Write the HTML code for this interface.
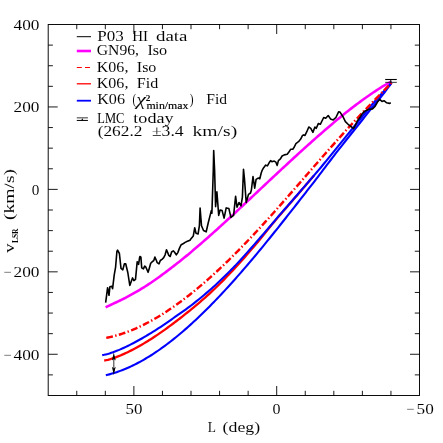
<!DOCTYPE html>
<html><head><meta charset="utf-8"><title>plot</title>
<style>html,body{margin:0;padding:0;background:#fff;width:443px;height:443px;overflow:hidden}body{font-family:"Liberation Serif",serif}</style></head>
<body>
<svg width="443" height="443" viewBox="0 0 443 443" style="position:absolute;left:0;top:0;will-change:transform">
<rect width="443" height="443" fill="#fff"/>
<path d="M105.65,307.30 L107.45,306.41 L109.24,305.56 L111.04,304.73 L112.83,303.89 L114.63,303.05 L116.43,302.20 L118.22,301.34 L120.02,300.48 L121.81,299.60 L123.61,298.71 L125.41,297.82 L127.20,296.91 L129.00,295.95 L130.79,294.96 L132.59,293.95 L134.38,292.93 L136.18,291.89 L137.98,290.84 L139.77,289.78 L141.57,288.70 L143.36,287.61 L145.16,286.50 L146.96,285.37 L148.75,284.21 L150.55,283.00 L152.34,281.77 L154.14,280.53 L155.94,279.27 L157.73,277.99 L159.53,276.70 L161.32,275.40 L163.12,274.07 L164.92,272.74 L166.71,271.39 L168.51,270.02 L170.30,268.64 L172.10,267.28 L173.89,265.90 L175.69,264.51 L177.49,263.10 L179.28,261.68 L181.08,260.25 L182.87,258.80 L184.67,257.34 L186.47,255.87 L188.26,254.38 L190.06,252.88 L191.85,251.37 L193.65,249.85 L195.45,248.32 L197.24,246.78 L199.04,245.22 L200.83,243.67 L202.63,242.12 L204.43,240.56 L206.22,238.99 L208.02,237.41 L209.81,235.83 L211.61,234.23 L213.40,232.63 L215.20,231.02 L217.00,229.41 L218.79,227.78 L220.59,226.15 L222.38,224.52 L224.18,222.88 L225.98,221.23 L227.77,219.58 L229.57,217.92 L231.36,216.26 L233.16,214.60 L234.96,212.93 L236.75,211.26 L238.55,209.58 L240.34,207.90 L242.14,206.22 L243.94,204.54 L245.73,202.86 L247.53,201.17 L249.32,199.48 L251.12,197.79 L252.91,196.11 L254.71,194.42 L256.51,192.73 L258.30,191.04 L260.10,189.35 L261.89,187.66 L263.69,185.97 L265.49,184.28 L267.28,182.60 L269.08,180.91 L270.87,179.23 L272.67,177.54 L274.47,175.86 L276.26,174.19 L278.06,172.51 L279.85,170.84 L281.65,169.17 L283.45,167.50 L285.24,165.83 L287.04,164.17 L288.83,162.51 L290.63,160.86 L292.42,159.21 L294.22,157.56 L296.02,155.92 L297.81,154.28 L299.61,152.64 L301.40,151.01 L303.20,149.39 L305.00,147.77 L306.79,146.15 L308.59,144.54 L310.38,142.94 L312.18,141.34 L313.98,139.74 L315.77,138.15 L317.57,136.57 L319.36,134.99 L321.16,133.42 L322.96,131.86 L324.75,130.30 L326.55,128.75 L328.34,127.21 L330.14,125.68 L331.93,124.15 L333.73,122.63 L335.53,121.12 L337.32,119.62 L339.12,118.13 L340.91,116.66 L342.71,115.21 L344.51,113.77 L346.30,112.35 L348.10,110.93 L349.89,109.53 L351.69,108.13 L353.49,106.75 L355.28,105.38 L357.08,104.03 L358.87,102.69 L360.67,101.37 L362.47,100.06 L364.26,98.76 L366.06,97.49 L367.85,96.23 L369.65,94.99 L371.44,93.75 L373.24,92.52 L375.04,91.32 L376.83,90.14 L378.63,88.98 L380.42,87.84 L382.22,86.73 L384.02,85.65 L385.81,84.59 L387.61,83.57 L389.40,82.57 L391.20,81.60" fill="none" stroke="#ff00ff" stroke-width="2.6"/>
<path d="M104.20,360.60 L106.01,360.22 L107.82,359.78 L109.62,359.29 L111.43,358.75 L113.24,358.17 L115.05,357.55 L116.85,356.88 L118.66,356.18 L120.47,355.45 L122.28,354.68 L124.08,353.88 L125.89,353.05 L127.70,352.19 L129.51,351.31 L131.31,350.40 L133.12,349.46 L134.93,348.50 L136.74,347.52 L138.54,346.52 L140.35,345.49 L142.16,344.45 L143.97,343.38 L145.77,342.29 L147.58,341.19 L149.39,340.06 L151.20,338.92 L153.00,337.75 L154.81,336.57 L156.62,335.37 L158.43,334.15 L160.23,332.91 L162.04,331.66 L163.85,330.38 L165.66,329.09 L167.46,327.77 L169.27,326.44 L171.08,325.09 L172.89,323.72 L174.69,322.34 L176.50,320.98 L178.31,319.62 L180.12,318.23 L181.92,316.83 L183.73,315.41 L185.54,313.97 L187.35,312.51 L189.15,311.03 L190.96,309.56 L192.77,308.10 L194.58,306.61 L196.38,305.11 L198.19,303.59 L200.00,302.05 L201.81,300.49 L203.62,298.91 L205.42,297.32 L207.23,295.68 L209.04,294.03 L210.85,292.37 L212.65,290.68 L214.46,288.98 L216.27,287.27 L218.08,285.54 L219.88,283.79 L221.69,281.95 L223.50,280.09 L225.31,278.22 L227.11,276.33 L228.92,274.43 L230.73,272.52 L232.54,270.60 L234.34,268.66 L236.15,266.72 L237.96,264.76 L239.77,262.79 L241.57,260.79 L243.38,258.72 L245.19,256.64 L247.00,254.56 L248.80,252.47 L250.61,250.36 L252.42,248.26 L254.23,246.14 L256.03,244.02 L257.84,241.90 L259.65,239.76 L261.46,237.63 L263.26,235.38 L265.07,233.08 L266.88,230.79 L268.69,228.52 L270.49,226.27 L272.30,224.05 L274.11,221.92 L275.92,219.78 L277.72,217.63 L279.53,215.49 L281.34,213.39 L283.15,211.32 L284.95,209.25 L286.76,207.17 L288.57,205.08 L290.38,203.00 L292.18,200.91 L293.99,198.82 L295.80,196.73 L297.61,194.63 L299.42,192.53 L301.22,190.43 L303.03,188.32 L304.84,186.21 L306.65,184.10 L308.45,181.98 L310.26,179.86 L312.07,177.74 L313.88,175.63" fill="none" stroke="#ff0000" stroke-width="2.3"/>
<path d="M102.20,355.20 L104.02,354.84 L105.84,354.41 L107.66,353.94 L109.48,353.41 L111.30,352.83 L113.12,352.21 L114.94,351.55 L116.76,350.85 L118.58,350.11 L120.40,349.35 L122.22,348.55 L124.04,347.72 L125.86,346.87 L127.68,345.99 L129.50,345.09 L131.32,344.17 L133.14,343.22 L134.96,342.26 L136.78,341.28 L138.60,340.28 L140.42,339.26 L142.24,338.22 L144.06,337.17 L145.88,336.10 L147.70,335.02 L149.52,333.92 L151.34,332.81 L153.16,331.68 L154.98,330.53 L156.80,329.37 L158.62,328.20 L160.44,327.01 L162.26,325.80 L164.08,324.58 L165.90,323.34 L167.72,322.09 L169.54,320.82 L171.36,319.53 L173.18,318.23 L175.01,316.91 L176.83,315.69 L178.65,314.44 L180.47,313.18 L182.29,311.90 L184.11,310.61 L185.93,309.29 L187.75,307.96 L189.57,306.61 L191.39,305.23 L193.21,303.81 L195.03,302.38 L196.85,300.93 L198.67,299.46 L200.49,297.98 L202.31,296.47 L204.13,294.95 L205.95,293.41 L207.77,291.85 L209.59,290.28 L211.41,288.69 L213.23,287.08 L215.05,285.45 L216.87,283.75 L218.69,282.03 L220.51,280.29 L222.33,278.54 L224.15,276.77 L225.97,274.99 L227.79,273.19 L229.61,271.38 L231.43,269.55 L233.25,267.71 L235.07,265.86 L236.89,263.89 L238.71,261.92 L240.53,259.93 L242.35,257.92 L244.17,255.91 L245.99,253.89 L247.81,251.85 L249.63,249.80 L251.45,247.74 L253.27,245.67 L255.09,243.60 L256.91,241.52 L258.73,239.42 L260.55,237.31 L262.37,235.20 L264.19,233.08 L266.01,230.96 L267.83,228.83 L269.65,226.70 L271.47,224.57 L273.29,222.45 L275.11,220.31 L276.93,218.18 L278.75,216.04 L280.57,213.92 L282.39,211.85 L284.21,209.79 L286.03,207.71 L287.85,205.64 L289.67,203.56 L291.49,201.48 L293.31,199.40 L295.13,197.31 L296.95,195.22 L298.77,193.13 L300.59,191.03 L302.41,188.93 L304.23,186.83 L306.05,184.73 L307.87,182.62 L309.69,180.50 L311.51,178.39 L313.33,176.26 L315.15,174.14 L316.97,172.01 L318.79,169.87 L320.62,167.71 L322.44,165.50 L324.26,163.28 L326.08,161.06 L327.90,158.84 L329.72,156.60 L331.54,154.36 L333.36,152.12 L335.18,149.87 L337.00,147.61 L338.82,145.34 L340.64,143.10 L342.46,140.88 L344.28,138.66 L346.10,136.44 L347.92,134.21 L349.74,131.97 L351.56,129.73 L353.38,127.48 L355.20,125.23 L357.02,122.98 L358.84,120.73 L360.66,118.48 L362.48,116.23 L364.30,113.98 L366.12,111.73 L367.94,109.49 L369.76,107.26 L371.58,105.11 L373.40,102.98 L375.22,100.87 L377.04,98.78 L378.86,96.71 L380.68,94.66 L382.50,92.64 L384.32,90.65 L386.14,88.65 L387.96,86.65 L389.78,84.70 L391.60,82.80" fill="none" stroke="#0000ff" stroke-width="2.1"/>
<path d="M105.85,375.30 L107.65,374.85 L109.44,374.37 L111.24,373.86 L113.04,373.32 L114.84,372.75 L116.63,372.16 L118.43,371.53 L120.23,370.88 L122.02,370.20 L123.82,369.49 L125.62,368.75 L127.42,367.98 L129.21,367.19 L131.01,366.36 L132.81,365.51 L134.60,364.63 L136.40,363.72 L138.20,362.79 L140.00,361.82 L141.79,360.83 L143.59,359.82 L145.39,358.77 L147.18,357.70 L148.98,356.61 L150.78,355.49 L152.58,354.34 L154.37,353.17 L156.17,351.97 L157.97,350.75 L159.77,349.50 L161.56,348.23 L163.36,346.94 L165.16,345.62 L166.95,344.28 L168.75,342.92 L170.55,341.53 L172.35,340.12 L174.14,338.69 L175.94,337.24 L177.74,335.77 L179.53,334.27 L181.33,332.76 L183.13,331.22 L184.93,329.67 L186.72,328.09 L188.52,326.50 L190.32,324.88 L192.11,323.25 L193.91,321.60 L195.71,319.92 L197.51,318.23 L199.30,316.53 L201.10,314.80 L202.90,313.06 L204.69,311.30 L206.49,309.52 L208.29,307.73 L210.09,305.92 L211.88,304.09 L213.68,302.25 L215.48,300.39 L217.27,298.51 L219.07,296.62 L220.87,294.72 L222.67,292.80 L224.46,290.86 L226.26,288.91 L228.06,286.95 L229.85,284.97 L231.65,282.98 L233.45,280.98 L235.25,278.96 L237.04,276.93 L238.84,274.89 L240.64,272.83 L242.43,270.76 L244.23,268.68 L246.03,266.59 L247.83,264.49 L249.62,262.38 L251.42,260.25 L253.22,258.12 L255.02,255.97 L256.81,253.81 L258.61,251.65 L260.41,249.48 L262.20,247.29 L264.00,245.10 L265.80,242.90 L267.60,240.69 L269.39,238.47 L271.19,236.25 L272.99,234.02 L274.78,231.78 L276.58,229.54 L278.38,227.28 L280.18,225.03 L281.97,222.77 L283.77,220.50 L285.57,218.23 L287.36,215.95 L289.16,213.67 L290.96,211.39 L292.76,209.10 L294.55,206.81 L296.35,204.52 L298.15,202.23 L299.94,199.93 L301.74,197.63 L303.54,195.33 L305.34,193.03 L307.13,190.73 L308.93,188.43 L310.73,186.13 L312.52,183.83 L314.32,181.53 L316.12,179.19 L317.92,176.81 L319.71,174.44 L321.51,172.07 L323.31,169.70 L325.10,167.33 L326.90,164.97 L328.70,162.60 L330.50,160.25 L332.29,157.89 L334.09,155.54 L335.89,153.18 L337.68,150.84 L339.48,148.56 L341.28,146.29 L343.08,144.03 L344.87,141.77 L346.67,139.51 L348.47,137.26 L350.27,135.00 L352.06,132.75 L353.86,130.50 L355.66,128.25 L357.45,126.00 L359.25,123.74 L361.05,121.49 L362.85,119.23 L364.64,116.97 L366.44,114.71 L368.24,112.44 L370.03,110.17 L371.83,108.00 L373.63,105.83 L375.43,103.65 L377.22,101.45 L379.02,99.25 L380.82,97.02 L382.61,94.78 L384.41,92.52 L386.21,90.16 L388.01,87.73 L389.80,85.28 L391.60,82.80" fill="none" stroke="#0000ff" stroke-width="2.1"/>
<path d="M106.25,337.90 L108.04,337.54 L109.84,337.15 L111.63,336.73 L113.43,336.28 L115.22,335.81 L117.02,335.31 L118.81,334.77 L120.61,334.22 L122.40,333.63 L124.20,333.02 L125.99,332.38 L127.79,331.72 L129.58,331.03 L131.38,330.31 L133.17,329.57 L134.96,328.80 L136.76,328.01 L138.55,327.20 L140.35,326.36 L142.14,325.49 L143.94,324.61 L145.73,323.69 L147.53,322.76 L149.32,321.80 L151.12,320.82 L152.91,319.82 L154.71,318.79 L156.50,317.75 L158.29,316.68 L160.09,315.59 L161.88,314.48 L163.68,313.34 L165.47,312.19 L167.27,311.02 L169.06,309.83 L170.86,308.61 L172.65,307.38 L174.45,306.13 L176.24,304.86 L178.04,303.56 L179.83,302.26 L181.63,300.93 L183.42,299.58 L185.21,298.22 L187.01,296.83 L188.80,295.43 L190.60,294.01 L192.39,292.58 L194.19,291.12 L195.98,289.65 L197.78,288.17 L199.57,286.66 L201.37,285.14 L203.16,283.61 L204.96,282.06 L206.75,280.49 L208.55,278.90 L210.34,277.31 L212.13,275.69 L213.93,274.06 L215.72,272.42 L217.52,270.76 L219.31,269.08 L221.11,267.40 L222.90,265.69 L224.70,263.98 L226.49,262.25 L228.29,260.51 L230.08,258.75 L231.88,256.98 L233.67,255.20 L235.47,253.40 L237.26,251.59 L239.05,249.77 L240.85,247.94 L242.64,246.10 L244.44,244.24 L246.23,242.38 L248.03,240.50 L249.82,238.61 L251.62,236.71 L253.41,234.81 L255.21,232.89 L257.00,230.96 L258.80,229.02 L260.59,227.07 L262.38,225.12 L264.18,223.15 L265.97,221.18 L267.77,219.20 L269.56,217.21 L271.36,215.22 L273.15,213.21 L274.95,211.20 L276.74,209.19 L278.54,207.17 L280.33,205.14 L282.13,203.11 L283.92,201.07 L285.72,199.03 L287.51,196.98 L289.30,194.93 L291.10,192.88 L292.89,190.83 L294.69,188.77 L296.48,186.71 L298.28,184.64 L300.07,182.58 L301.87,180.51 L303.66,178.45 L305.46,176.38 L307.25,174.31 L309.05,172.25 L310.84,170.18 L312.64,168.12 L314.43,166.06 L316.22,164.00 L318.02,161.94 L319.81,159.88 L321.61,157.83 L323.40,155.78 L325.20,153.74 L326.99,151.70 L328.79,149.67 L330.58,147.64 L332.38,145.61 L334.17,143.59 L335.97,141.58 L337.76,139.57 L339.56,137.57 L341.35,135.58 L343.14,133.59 L344.94,131.61 L346.73,129.64 L348.53,127.68 L350.32,125.72 L352.12,123.77 L353.91,121.83 L355.71,119.90 L357.50,117.98 L359.30,116.06 L361.09,114.15 L362.89,112.26 L364.68,110.37 L366.47,108.48 L368.27,106.61 L370.06,104.74 L371.86,102.88 L373.65,101.03 L375.45,99.18 L377.24,97.34 L379.04,95.51 L380.83,93.68 L382.63,91.86 L384.42,90.04 L386.22,88.23 L388.01,86.42 L389.81,84.61 L391.60,82.80" fill="none" stroke="#ff0000" stroke-width="2.45" stroke-dasharray="6.8 2.4 1.4 2.4"/>
<path d="M105.65,302.60 L107.60,287.70 L109.00,295.30 L109.90,286.80 L111.70,286.30 L112.60,288.60 L114.20,275.20 L115.60,267.10 L116.90,251.50 L117.60,250.20 L119.40,253.50 L121.00,268.40 L122.80,269.80 L124.40,263.70 L125.70,263.70 L127.80,272.50 L129.80,285.40 L132.50,277.90 L133.90,280.60 L135.50,279.30 L137.20,261.70 L138.60,264.40 L139.70,256.90 L140.00,256.50 L140.90,257.10 L141.70,267.80 L143.40,268.90 L144.70,266.10 L145.90,267.20 L148.10,272.30 L149.60,267.20 L150.70,263.30 L152.40,261.60 L153.80,260.50 L154.90,257.10 L156.40,260.50 L157.20,262.70 L159.00,263.90 L160.30,260.50 L162.00,259.30 L163.70,257.70 L165.10,254.80 L166.50,249.80 L167.70,252.60 L168.80,255.40 L170.20,256.50 L171.60,252.00 L173.30,250.90 L174.40,252.00 L176.30,254.80 L177.80,252.60 L179.50,248.10 L181.20,244.70 L183.50,243.50 L185.10,242.40 L187.40,241.30 L190.00,240.20 L190.60,239.30 L193.30,235.90 L194.70,227.80 L196.00,233.20 L198.10,233.90 L199.40,225.70 L200.10,208.10 L201.50,225.70 L203.50,230.50 L206.20,231.80 L208.20,223.00 L211.30,210.60 L211.90,213.30 L213.30,170.00 L213.70,150.50 L214.60,170.00 L215.60,206.60 L216.90,191.70 L218.70,215.40 L220.10,210.00 L222.10,210.60 L224.10,218.10 L226.20,207.90 L228.90,208.60 L230.90,217.40 L233.60,215.40 L235.60,196.40 L237.00,207.20 L239.00,202.50 L241.00,205.90 L242.40,197.10 L243.50,169.40 L244.40,178.10 L246.20,202.50 L248.50,194.40 L250.50,193.00 L251.40,190.00 L253.00,176.50 L254.70,188.20 L256.10,179.40 L258.10,178.10 L259.80,178.80 L261.20,173.00 L262.00,170.70 L263.50,167.90 L265.70,165.10 L267.40,165.90 L269.10,162.80 L270.60,160.60 L271.90,161.70 L274.20,161.10 L275.90,162.20 L277.20,165.40 L278.40,160.60 L280.40,158.90 L282.10,156.00 L284.30,154.90 L287.20,154.30 L288.90,152.10 L290.60,149.30 L292.80,149.30 L294.30,147.00 L295.90,143.60 L298.50,141.70 L300.70,139.10 L302.40,135.70 L303.50,134.90 L305.00,135.40 L306.80,131.70 L308.80,127.00 L310.80,128.30 L312.90,132.40 L314.90,127.00 L316.30,128.30 L318.30,123.60 L320.30,124.30 L323.70,117.50 L325.70,118.20 L328.20,115.50 L330.50,118.90 L333.20,119.90 L335.90,117.50 L338.60,111.80 L340.00,112.10 L342.70,116.20 L345.40,121.60 L348.10,124.30 L350.80,126.30 L353.50,128.60 L355.50,125.00 L357.60,120.40 L360.30,117.00 L362.30,113.60 L365.10,110.90 L368.40,109.50 L372.50,108.90 L375.20,106.20 L377.90,101.40 L379.60,99.40 L382.00,101.40 L384.00,100.70 L386.70,102.80 L389.40,103.40 L390.80,102.80" fill="none" stroke="#000" stroke-width="1.6" stroke-linejoin="round"/>
<path d="M385.2,79.5H396.8" stroke="#000" stroke-width="1.1" fill="none"/>
<path d="M385.2,82.35H396.8" stroke="#000" stroke-width="0.8" fill="none"/>
<path d="M390.8,79.5 l-1.1,2.3 h2.2z" fill="#000"/>
<path d="M113.8,356 V371" stroke="#444" stroke-width="1.1" fill="none"/>
<path d="M113.8,352.4 l-1.9,8.2 l1.9,-1.6 l1.9,1.6z M113.8,375 l-1.9,-8.2 l1.9,1.6 l1.9,-1.6z" fill="#000"/>
<rect x="48.20" y="24.50" width="371.30" height="371.00" fill="none" stroke="#000" stroke-width="0.95"/>
<path d="M390.94,395.50v-4.7M390.94,24.50v4.7M362.38,395.50v-4.7M362.38,24.50v4.7M333.82,395.50v-4.7M333.82,24.50v4.7M305.25,395.50v-4.7M305.25,24.50v4.7M276.69,395.50v-9.5M276.69,24.50v9.5M248.13,395.50v-4.7M248.13,24.50v4.7M219.57,395.50v-4.7M219.57,24.50v4.7M191.01,395.50v-4.7M191.01,24.50v4.7M162.45,395.50v-4.7M162.45,24.50v4.7M133.88,395.50v-9.5M133.88,24.50v9.5M105.32,395.50v-4.7M105.32,24.50v4.7M76.76,395.50v-4.7M76.76,24.50v4.7M48.20,374.89h4.7M419.50,374.89h-4.7M48.20,354.28h9.5M419.50,354.28h-9.5M48.20,333.67h4.7M419.50,333.67h-4.7M48.20,313.06h4.7M419.50,313.06h-4.7M48.20,292.44h4.7M419.50,292.44h-4.7M48.20,271.83h9.5M419.50,271.83h-9.5M48.20,251.22h4.7M419.50,251.22h-4.7M48.20,230.61h4.7M419.50,230.61h-4.7M48.20,210.00h4.7M419.50,210.00h-4.7M48.20,189.39h9.5M419.50,189.39h-9.5M48.20,168.78h4.7M419.50,168.78h-4.7M48.20,148.17h4.7M419.50,148.17h-4.7M48.20,127.56h4.7M419.50,127.56h-4.7M48.20,106.94h9.5M419.50,106.94h-9.5M48.20,86.33h4.7M419.50,86.33h-4.7M48.20,65.72h4.7M419.50,65.72h-4.7M48.20,45.11h4.7M419.50,45.11h-4.7" stroke="#000" stroke-width="0.9" fill="none"/>
<g font-family="'Liberation Serif', serif" fill="#000" stroke="#fff" stroke-width="0.05">
<text x="13.6" y="30.0" font-size="15" text-anchor="start" textLength="25.9" lengthAdjust="spacingAndGlyphs">400</text>
<text x="13.6" y="112.4" font-size="15" text-anchor="start" textLength="25.9" lengthAdjust="spacingAndGlyphs">200</text>
<text x="31.8" y="194.9" font-size="15" text-anchor="start" textLength="7.6" lengthAdjust="spacingAndGlyphs">0</text>
<text x="3.4" y="277.3" font-size="15" text-anchor="start" textLength="8.0" lengthAdjust="spacingAndGlyphs">−</text>
<text x="13.5" y="277.3" font-size="15" text-anchor="start" textLength="26.0" lengthAdjust="spacingAndGlyphs">200</text>
<text x="3.4" y="359.8" font-size="15" text-anchor="start" textLength="8.0" lengthAdjust="spacingAndGlyphs">−</text>
<text x="13.5" y="359.8" font-size="15" text-anchor="start" textLength="26.0" lengthAdjust="spacingAndGlyphs">400</text>
<text x="125.6" y="413.7" font-size="15" text-anchor="start" textLength="16.9" lengthAdjust="spacingAndGlyphs">50</text>
<text x="272.4" y="413.7" font-size="15" text-anchor="start" textLength="8.0" lengthAdjust="spacingAndGlyphs">0</text>
<text x="406.2" y="413.7" font-size="15" text-anchor="start" textLength="8.0" lengthAdjust="spacingAndGlyphs">−</text>
<text x="416.6" y="413.7" font-size="15" text-anchor="start" textLength="17.2" lengthAdjust="spacingAndGlyphs">50</text>
<text x="207.7" y="432.4" font-size="15" text-anchor="start" textLength="8.2" lengthAdjust="spacingAndGlyphs">L</text>
<text x="222.6" y="432.4" font-size="15" text-anchor="start" textLength="37.6" lengthAdjust="spacingAndGlyphs">(deg)</text>
<g transform="translate(13.5,253) rotate(-90)">
<text x="0.0" y="0.0" font-size="15" text-anchor="start" textLength="9.5" lengthAdjust="spacingAndGlyphs">v</text>
<text x="10.0" y="4.9" font-size="8" text-anchor="start" textLength="14.5" lengthAdjust="spacingAndGlyphs" font-weight="bold" stroke="none">LSR</text>
<text x="33.0" y="0.0" font-size="15" text-anchor="start" textLength="51.0" lengthAdjust="spacingAndGlyphs">(km/s)</text>
</g>
<text x="97.3" y="40.9" font-size="15" text-anchor="start" textLength="26.5" lengthAdjust="spacingAndGlyphs">P03</text>
<text x="132.2" y="40.9" font-size="15" text-anchor="start" textLength="15.8" lengthAdjust="spacingAndGlyphs">HI</text>
<text x="156.0" y="40.9" font-size="15" text-anchor="start" textLength="31.5" lengthAdjust="spacingAndGlyphs">data</text>
<text x="96.8" y="55.3" font-size="15" text-anchor="start" textLength="42.2" lengthAdjust="spacingAndGlyphs">GN96,</text>
<text x="147.4" y="55.3" font-size="15" text-anchor="start" textLength="19.8" lengthAdjust="spacingAndGlyphs">Iso</text>
<text x="96.8" y="71.8" font-size="15" text-anchor="start" textLength="31.6" lengthAdjust="spacingAndGlyphs">K06,</text>
<text x="136.8" y="71.8" font-size="15" text-anchor="start" textLength="19.6" lengthAdjust="spacingAndGlyphs">Iso</text>
<text x="96.8" y="88.2" font-size="15" text-anchor="start" textLength="31.6" lengthAdjust="spacingAndGlyphs">K06,</text>
<text x="136.8" y="88.2" font-size="15" text-anchor="start" textLength="21.4" lengthAdjust="spacingAndGlyphs">Fid</text>
<text x="97.2" y="104.4" font-size="15" text-anchor="start" textLength="27.8" lengthAdjust="spacingAndGlyphs">K06</text>
<text x="132.6" y="104.4" font-size="15" text-anchor="start" textLength="3.6" lengthAdjust="spacingAndGlyphs">(</text>
<text x="189.8" y="104.4" font-size="15" text-anchor="start" textLength="3.8" lengthAdjust="spacingAndGlyphs">)</text>
<text x="206.3" y="104.4" font-size="15" text-anchor="start" textLength="20.8" lengthAdjust="spacingAndGlyphs">Fid</text>
<text x="136.3" y="104.9" font-size="16" text-anchor="start" textLength="9.6" lengthAdjust="spacingAndGlyphs" font-style="italic">χ</text>
<text x="145.8" y="101.1" font-size="8.5" text-anchor="start" textLength="4.6" lengthAdjust="spacingAndGlyphs" font-weight="bold" stroke="none">2</text>
<text x="146.4" y="109.1" font-size="10" text-anchor="start" textLength="42.1" lengthAdjust="spacingAndGlyphs" stroke="#000" stroke-width="0.15">min/max</text>
<text x="97.3" y="122.6" font-size="15" text-anchor="start" textLength="27.1" lengthAdjust="spacingAndGlyphs" stroke="none">LMC</text>
<text x="133.3" y="122.6" font-size="15" text-anchor="start" textLength="40.3" lengthAdjust="spacingAndGlyphs">today</text>
<text x="97.7" y="135.8" font-size="15" text-anchor="start" textLength="44.7" lengthAdjust="spacingAndGlyphs">(262.2</text>
<text x="151.9" y="135.8" font-size="15" text-anchor="start" textLength="31.8" lengthAdjust="spacingAndGlyphs">±3.4</text>
<text x="192.5" y="135.8" font-size="15" text-anchor="start" textLength="44.7" lengthAdjust="spacingAndGlyphs">km/s)</text>
</g>
<path d="M76.8,36.7H91" stroke="#000" stroke-width="1"/>
<path d="M76.8,51H91" stroke="#ff00ff" stroke-width="2.6"/>
<path d="M76.8,67.5H91" stroke="#ff0000" stroke-width="1.1" stroke-dasharray="5 3.2"/>
<path d="M76.8,83.8H91" stroke="#ff0000" stroke-width="1.3"/>
<path d="M76.8,100.7H91" stroke="#0000ff" stroke-width="1.8"/>
<path d="M76.8,117.85H87.9" stroke="#000" stroke-width="0.8" fill="none"/>
<path d="M76.8,120.45H87.9" stroke="#000" stroke-width="1" fill="none"/>
<path d="M82.3,118.3 l-1.1,2.2 h2.2z" fill="#000"/>
</svg>
</body></html>
